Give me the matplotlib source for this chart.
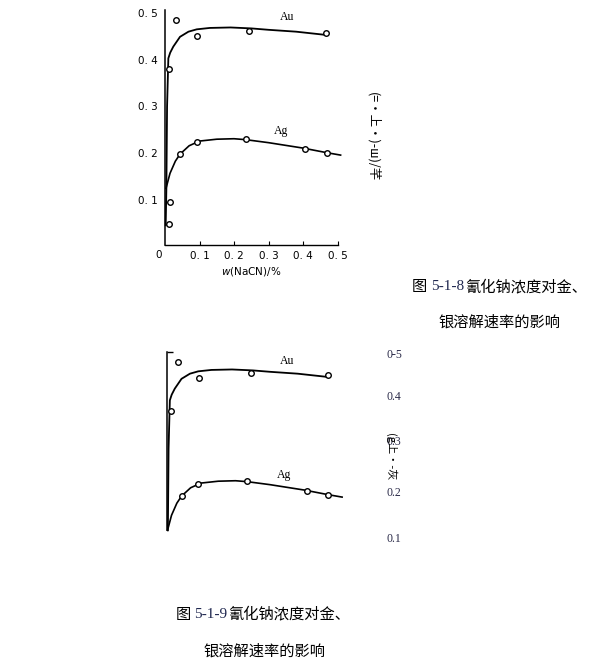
import matplotlib
matplotlib.use("Agg")
import matplotlib.pyplot as plt

W, H = 606, 670

# 数据
au_pts_x = [0.0125, 0.033, 0.093, 0.244, 0.467]
au_pts_y = [0.380, 0.485, 0.451, 0.461, 0.457]
ag_pts_x = [0.0435, 0.092, 0.234, 0.406, 0.469]
ag_pts_y = [0.198, 0.224, 0.230, 0.210, 0.200]
low_pts_x = [0.0145, 0.0125]
low_pts_y = [0.096, 0.049]

au_x = [0.002, 0.004, 0.006, 0.0097, 0.015, 0.024, 0.0435, 0.068, 0.092, 0.13, 0.19, 0.25, 0.30, 0.38, 0.467]
au_y = [0.046, 0.125, 0.300, 0.403, 0.415, 0.428, 0.449, 0.460, 0.465, 0.468, 0.469, 0.467, 0.464, 0.460, 0.453]
ag_x = [0.003, 0.0145, 0.03, 0.0435, 0.07, 0.10, 0.15, 0.20, 0.234, 0.30, 0.40, 0.47, 0.509]
ag_y = [0.125, 0.157, 0.183, 0.198, 0.216, 0.226, 0.230, 0.231, 0.229, 0.2226, 0.211, 0.201, 0.196]

yticks = [0.1, 0.2, 0.3, 0.4, 0.5]
ytick_labels = ["0. 1", "0. 2", "0. 3", "0. 4", "0. 5"]
xticks = [0.1, 0.2, 0.3, 0.4, 0.5]
xtick_labels = ["0. 1", "0. 2", "0. 3", "0. 4", "0. 5"]
side_labels = ["0-5", "0.4", "0.3", "0.2", "0.1"]

cjk = ["Noto Sans CJK SC", "DejaVu Sans"]


def fig_text(x, y, s, **kw):
    return fig.text(x / W, 1 - y / H, s, **kw)


fig = plt.figure(figsize=(W / 100, H / 100), dpi=100)

# 图 5-1-8
ymin, ymax = 0.0037, 0.507
ax1 = fig.add_axes([165 / W, 1 - 245 / H, 172.5 / W, (245 - 9.7) / H])
ax1.set_xlim(0, 0.5)
ax1.set_ylim(ymin, ymax)
ax1.plot(au_x, au_y, color="black", lw=1.3, clip_on=False)
ax1.plot(ag_x, ag_y, color="black", lw=1.2, clip_on=False)
for xs, ys in [(au_pts_x, au_pts_y), (ag_pts_x, ag_pts_y), (low_pts_x, low_pts_y)]:
    ax1.plot(xs, ys, "o", ms=4, mfc="white", mec="black", mew=1.0, clip_on=False)
for s in ["top", "right"]:
    ax1.spines[s].set_visible(False)
ax1.spines["left"].set_linewidth(1.1)
ax1.spines["bottom"].set_linewidth(1.0)
ax1.set_yticks(yticks)
ax1.set_yticklabels(ytick_labels, fontsize=7.5, family="DejaVu Sans")
ax1.tick_params(axis="y", length=0, pad=5)
ax1.set_xticks(xticks)
ax1.set_xticklabels(xtick_labels, fontsize=7.5, family="DejaVu Sans")
ax1.tick_params(axis="x", direction="in", length=3, width=0.8, pad=4)
fig_text(287, 17, "Au", fontsize=8.5, family="Liberation Serif", ha="center", va="center")
fig_text(281, 131, "Ag", fontsize=8.5, family="Liberation Serif", ha="center", va="center")
fig_text(159, 255, "0", fontsize=7.5, ha="center", va="center")
fig_text(251, 271, "$w$(NaCN)/%", fontsize=7.5, ha="center", va="center")
fig_text(373, 137, "(=•上•)-ш)/芊", fontsize=9, family=cjk, rotation=270,
         ha="center", va="center")

# 图注 1
fig_text(412, 287, "图", fontsize=11, family=cjk, ha="left", va="center")
fig_text(431, 287, "5-1-8", fontsize=11, family="Liberation Serif", color="#202850",
         ha="left", va="center")
fig_text(465, 287, "氰化钠浓度对金、", fontsize=11, family=cjk, ha="left", va="center")
fig_text(438, 322, "银溶解速率的影响", fontsize=11, family=cjk, ha="left", va="center")

# 图 5-1-9
ax2 = fig.add_axes([166.5 / W, 1 - 587 / H, 172.5 / W, (587 - 351.7) / H])
ax2.set_xlim(0, 0.5)
ax2.set_ylim(ymin, ymax)
ax2.plot(au_x[1:], au_y[1:], color="black", lw=1.3, clip_on=False)
ax2.plot(ag_x, ag_y, color="black", lw=1.2, clip_on=False)
for xs, ys in [(au_pts_x, au_pts_y), (ag_pts_x, ag_pts_y)]:
    ax2.plot(xs, ys, "o", ms=4, mfc="white", mec="black", mew=1.0, clip_on=False)
for s in ["top", "right", "bottom"]:
    ax2.spines[s].set_visible(False)
ax2.spines["left"].set_bounds(au_y[1], ymax)
ax2.spines["left"].set_linewidth(1.1)
ax2.set_xticks([])
ax2.set_yticks([ymax])
ax2.set_yticklabels([""])
ax2.tick_params(axis="y", direction="in", length=4, width=1.0)
fig_text(287, 361, "Au", fontsize=8.5, family="Liberation Serif", ha="center", va="center")
fig_text(284, 475, "Ag", fontsize=8.5, family="Liberation Serif", ha="center", va="center")
for lab, yy in zip(side_labels, [355, 397, 442, 493, 539]):
    fig_text(386, yy, lab, fontsize=8.5, family="Liberation Serif", color="#2a2a48",
             ha="left", va="center")
fig_text(391, 457, "(g上•-灰", fontsize=8, family=cjk, rotation=270,
         ha="center", va="center")

# 图注 2
fig_text(176, 614, "图", fontsize=11, family=cjk, ha="left", va="center")
fig_text(194, 614, "5-1-9", fontsize=11, family="Liberation Serif", color="#202850",
         ha="left", va="center")
fig_text(228, 614, "氰化钠浓度对金、", fontsize=11, family=cjk, ha="left", va="center")
fig_text(203, 651, "银溶解速率的影响", fontsize=11, family=cjk, ha="left", va="center")

fig.savefig("out.png", dpi=100)
